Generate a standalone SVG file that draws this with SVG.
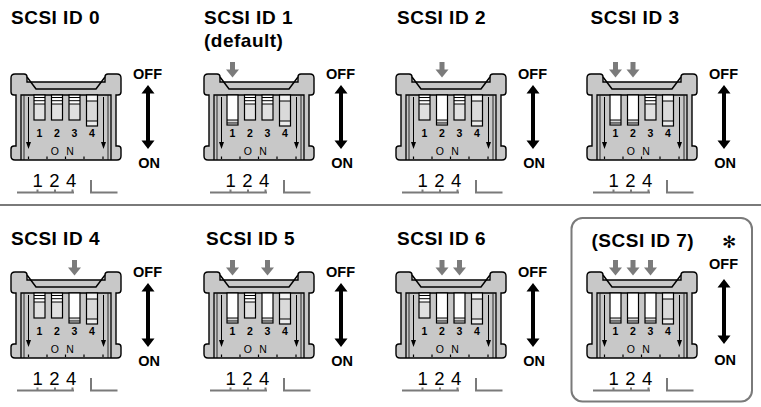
<svg xmlns="http://www.w3.org/2000/svg" xmlns:xlink="http://www.w3.org/1999/xlink" width="761" height="407" viewBox="0 0 761 407">
<style>
.t{font-family:"Liberation Sans",Arial,sans-serif;font-weight:bold;font-size:19px;letter-spacing:0.5px;fill:#000}
.lbl{font-family:"Liberation Sans",Arial,sans-serif;font-weight:bold;font-size:14.5px;text-anchor:middle;fill:#000}
.n{font-family:"Liberation Sans",Arial,sans-serif;font-weight:bold;font-size:10.5px;text-anchor:middle;fill:#000}
.o{font-family:"Liberation Sans",Arial,sans-serif;font-size:10.5px;text-anchor:middle;fill:#000}
.leg{font-family:"Liberation Sans",Arial,sans-serif;font-size:18.5px;letter-spacing:6.5px;fill:#000}
.ast{font-family:"DejaVu Sans",sans-serif;font-size:17px;text-anchor:middle;fill:#000}
.ln{fill:none;stroke:#000}
.gl{fill:none;stroke:#7a7a7a;stroke-width:2}
.pin{fill:#7b7b7b}
</style>
<defs>
  <g id="body">
    <path d="M15,74 H24 Q27,74 27,77 V82 H105 V77 Q105,74 108,74 H117 Q121,74 121,78 V92 Q121,95 118,95 H116 V146 H118 Q121,146 121,149 V156 Q121,160 117,160 H15 Q11,160 11,156 V149 Q11,146 14,146 H16 V95 H14 Q11,95 11,92 V78 Q11,74 15,74 Z" fill="#c8c8c8" stroke="#000" stroke-width="1.4"/>
    <path class="ln" d="M27,77 L36,89 H96 L105,77" stroke-width="1.5"/>
    <path class="ln" d="M21,160 V95 H111 V160" stroke-width="1.3"/>
    <path class="ln" d="M24,95.5 V160 M108,95.5 V160" stroke-width="0.8"/>
    <path class="ln" d="M28.5,97 V143 M103.5,97 V143" stroke-width="1"/>
    <path d="M26,142 H31 L28.5,149 Z M101,142 H106 L103.5,149 Z" fill="#000"/>
    <path class="ln" d="M28.5,156.5 V159 M47,156.5 V159 M65.5,156.5 V159 M84,156.5 V159 M103,156.5 V159" stroke-width="1.2"/>
    <rect x="86.5" y="95" width="11" height="31" fill="#dadada"/>
    <rect x="86.5" y="95" width="11" height="6" fill="#f4f4f4"/>
    <rect x="86.5" y="121" width="11" height="5" fill="#ececec"/>
    <path class="ln" d="M86.5,101 H97.5 M86.5,121 H97.5" stroke-width="1.1"/>
    <rect x="86.5" y="95" width="11" height="31" class="ln" stroke-width="1.2"/>
  </g>
  <g id="off">
    <rect x="0" y="95" width="11" height="25" fill="#e0e0e0"/>
    <rect x="0" y="95" width="11" height="9" fill="#fff"/>
    <path class="ln" d="M0,97.5 H11 M0,100.7 H11 M0,104 H11" stroke-width="1"/>
    <rect x="0" y="95" width="11" height="25" class="ln" stroke-width="1.2"/>
  </g>
  <g id="on">
    <rect x="0" y="95" width="11" height="30" fill="#fff"/>
    <rect x="0" y="120" width="11" height="3" fill="#d8d8d8"/>
    <path class="ln" d="M0,120 H11 M0,123 H11" stroke-width="1"/>
    <rect x="0" y="95" width="11" height="30" class="ln" stroke-width="1.2"/>
  </g>
  <path id="pin" class="pin" d="M-2.5,62 H2.5 V69.5 H6.5 L0,77.5 L-6.5,69.5 H-2.5 Z"/>
  <path id="dbl" d="M148,85 L154.5,93.5 H150 V140.5 H154.5 L148,149 L141.5,140.5 H146 V93.5 H141.5 Z" fill="#000"/>
  <g id="legend">
    <path class="gl" d="M17,192.5 H74 M37.5,189.5 V192.5 M55,189.5 V192.5 M72.5,189.5 V192.5"/>
    <path class="gl" d="M91,180 V192.5 H117.5"/>
  </g>
</defs>

<g id="separators">
  <line x1="0" y1="205" x2="761" y2="205" stroke="#7a7a7a" stroke-width="2"/>
  <rect x="571.5" y="218" width="180.5" height="183.5" rx="11" fill="none" stroke="#7a7a7a" stroke-width="2"/>
</g>

<!-- SCSI ID 0 -->
<g id="scsi-id-0" transform="translate(0,0)">
  <text class="t" x="11" y="23.5">SCSI ID 0</text>
  <use href="#body"/>
  <use href="#off" x="34"/><use href="#off" x="51.5"/><use href="#off" x="69"/>
  <text class="n" x="39.5" y="137">1</text><text class="n" x="57" y="137">2</text><text class="n" x="74.5" y="137">3</text><text class="n" x="92" y="137">4</text>
  <text class="o" x="66" y="154.5" letter-spacing="7.5">ON</text>
  <text class="lbl" x="147.5" y="78.5">OFF</text><use href="#dbl"/><text class="lbl" x="149" y="168">ON</text>
  <text class="leg" x="32.5" y="187">124</text><use href="#legend"/>
</g>

<!-- SCSI ID 1 -->
<g id="scsi-id-1" transform="translate(193,0)">
  <text class="t" x="11" y="23.5">SCSI ID 1</text>
  <text class="t" x="11" y="47">(default)</text>
  <use href="#body"/>
  <use href="#on" x="34"/><use href="#off" x="51.5"/><use href="#off" x="69"/>
  <use href="#pin" x="39.5"/>
  <text class="n" x="39.5" y="137">1</text><text class="n" x="57" y="137">2</text><text class="n" x="74.5" y="137">3</text><text class="n" x="92" y="137">4</text>
  <text class="o" x="66" y="154.5" letter-spacing="7.5">ON</text>
  <text class="lbl" x="147.5" y="78.5">OFF</text><use href="#dbl"/><text class="lbl" x="149" y="168">ON</text>
  <text class="leg" x="32.5" y="187">124</text><use href="#legend"/>
</g>

<!-- SCSI ID 2 -->
<g id="scsi-id-2" transform="translate(385,0)">
  <text class="t" x="12" y="23.5">SCSI ID 2</text>
  <use href="#body"/>
  <use href="#off" x="34"/><use href="#on" x="51.5"/><use href="#off" x="69"/>
  <use href="#pin" x="57"/>
  <text class="n" x="39.5" y="137">1</text><text class="n" x="57" y="137">2</text><text class="n" x="74.5" y="137">3</text><text class="n" x="92" y="137">4</text>
  <text class="o" x="66" y="154.5" letter-spacing="7.5">ON</text>
  <text class="lbl" x="147.5" y="78.5">OFF</text><use href="#dbl"/><text class="lbl" x="149" y="168">ON</text>
  <text class="leg" x="32.5" y="187">124</text><use href="#legend"/>
</g>

<!-- SCSI ID 3 -->
<g id="scsi-id-3" transform="translate(576,0)">
  <text class="t" x="14.5" y="23.5">SCSI ID 3</text>
  <use href="#body"/>
  <use href="#on" x="34"/><use href="#on" x="51.5"/><use href="#off" x="69"/>
  <use href="#pin" x="39.5"/><use href="#pin" x="57"/>
  <text class="n" x="39.5" y="137">1</text><text class="n" x="57" y="137">2</text><text class="n" x="74.5" y="137">3</text><text class="n" x="92" y="137">4</text>
  <text class="o" x="66" y="154.5" letter-spacing="7.5">ON</text>
  <text class="lbl" x="147.5" y="78.5">OFF</text><use href="#dbl"/><text class="lbl" x="149" y="168">ON</text>
  <text class="leg" x="32.5" y="187">124</text><use href="#legend"/>
</g>

<!-- SCSI ID 4 -->
<g id="scsi-id-4" transform="translate(0,198)">
  <text class="t" x="11" y="47">SCSI ID 4</text>
  <use href="#body"/>
  <use href="#off" x="34"/><use href="#off" x="51.5"/><use href="#on" x="69"/>
  <use href="#pin" x="74.5"/>
  <text class="n" x="39.5" y="137">1</text><text class="n" x="57" y="137">2</text><text class="n" x="74.5" y="137">3</text><text class="n" x="92" y="137">4</text>
  <text class="o" x="66" y="154.5" letter-spacing="7.5">ON</text>
  <text class="lbl" x="147.5" y="78.5">OFF</text><use href="#dbl"/><text class="lbl" x="149" y="168">ON</text>
  <text class="leg" x="32.5" y="187">124</text><use href="#legend"/>
</g>

<!-- SCSI ID 5 -->
<g id="scsi-id-5" transform="translate(193,198)">
  <text class="t" x="13" y="47">SCSI ID 5</text>
  <use href="#body"/>
  <use href="#on" x="34"/><use href="#off" x="51.5"/><use href="#on" x="69"/>
  <use href="#pin" x="39.5"/><use href="#pin" x="74.5"/>
  <text class="n" x="39.5" y="137">1</text><text class="n" x="57" y="137">2</text><text class="n" x="74.5" y="137">3</text><text class="n" x="92" y="137">4</text>
  <text class="o" x="66" y="154.5" letter-spacing="7.5">ON</text>
  <text class="lbl" x="147.5" y="78.5">OFF</text><use href="#dbl"/><text class="lbl" x="149" y="168">ON</text>
  <text class="leg" x="32.5" y="187">124</text><use href="#legend"/>
</g>

<!-- SCSI ID 6 -->
<g id="scsi-id-6" transform="translate(385,198)">
  <text class="t" x="12" y="47">SCSI ID 6</text>
  <use href="#body"/>
  <use href="#off" x="34"/><use href="#on" x="51.5"/><use href="#on" x="69"/>
  <use href="#pin" x="57"/><use href="#pin" x="74.5"/>
  <text class="n" x="39.5" y="137">1</text><text class="n" x="57" y="137">2</text><text class="n" x="74.5" y="137">3</text><text class="n" x="92" y="137">4</text>
  <text class="o" x="66" y="154.5" letter-spacing="7.5">ON</text>
  <text class="lbl" x="147.5" y="78.5">OFF</text><use href="#dbl"/><text class="lbl" x="149" y="168">ON</text>
  <text class="leg" x="32.5" y="187">124</text><use href="#legend"/>
</g>

<!-- SCSI ID 7 -->
<g id="scsi-id-7" transform="translate(576,198)">
  <text class="t" x="15.5" y="49">(SCSI ID 7)</text>
  <text class="ast" x="153" y="50">✻</text>
  <use href="#body"/>
  <use href="#on" x="34"/><use href="#on" x="51.5"/><use href="#on" x="69"/>
  <use href="#pin" x="39.5"/><use href="#pin" x="57"/><use href="#pin" x="74.5"/>
  <text class="n" x="39.5" y="137">1</text><text class="n" x="57" y="137">2</text><text class="n" x="74.5" y="137">3</text><text class="n" x="92" y="137">4</text>
  <text class="o" x="66" y="154.5" letter-spacing="7.5">ON</text>
  <text class="lbl" x="147.5" y="70.5">OFF</text>
  <path d="M148,81 L154.5,89.5 H150 V137.5 H154.5 L148,146 L141.5,137.5 H146 V89.5 H141.5 Z" fill="#000"/>
  <text class="lbl" x="149" y="167">ON</text>
  <text class="leg" x="32.5" y="187">124</text><use href="#legend"/>
</g>
</svg>
